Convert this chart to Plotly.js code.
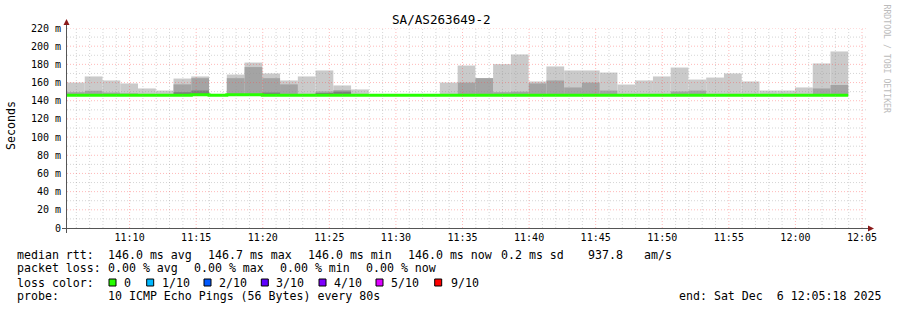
<!DOCTYPE html>
<html>
<head>
<meta charset="utf-8">
<script src="https://cdn.plot.ly/plotly-3.0.1.min.js"></script>
<style>html,body{margin:0;padding:0;background:#fff;}#chart{width:897px;height:310px;}</style>
</head>
<body>
<div id="chart"></div>
<script>
// ---- data ----
const stepStart = [
 '2025-12-06 11:05:18','2025-12-06 11:06:38','2025-12-06 11:07:58','2025-12-06 11:09:18',
 '2025-12-06 11:10:38','2025-12-06 11:11:58','2025-12-06 11:13:18','2025-12-06 11:14:38',
 '2025-12-06 11:15:58','2025-12-06 11:17:18','2025-12-06 11:18:38','2025-12-06 11:19:58',
 '2025-12-06 11:21:18','2025-12-06 11:22:38','2025-12-06 11:23:58','2025-12-06 11:25:18',
 '2025-12-06 11:26:38','2025-12-06 11:27:58','2025-12-06 11:29:18','2025-12-06 11:30:38',
 '2025-12-06 11:31:58','2025-12-06 11:33:18','2025-12-06 11:34:38','2025-12-06 11:35:58',
 '2025-12-06 11:37:18','2025-12-06 11:38:38','2025-12-06 11:39:58','2025-12-06 11:41:18',
 '2025-12-06 11:42:38','2025-12-06 11:43:58','2025-12-06 11:45:18','2025-12-06 11:46:38',
 '2025-12-06 11:47:58','2025-12-06 11:49:18','2025-12-06 11:50:38','2025-12-06 11:51:58',
 '2025-12-06 11:53:18','2025-12-06 11:54:38','2025-12-06 11:55:58','2025-12-06 11:57:18',
 '2025-12-06 11:58:38','2025-12-06 11:59:58','2025-12-06 12:01:18','2025-12-06 12:02:38'
];
const stepEnd = '2025-12-06 12:03:58';
const stepMs = 80000;

// smoke: outer pair (min..max), second pair, third pair (ms)
const smokeLow = [
 146,146,146,146,146,146,146,146,146,146,146,146,146,146,146,146,146,146,146,146,146,146,
 146,146,146,146,146,146,146,146,146,146,146,146,146,146,146,146,146,146,146,146,146,146
];
const smokeOuterTop = [
 160,166.7,162.3,159,153.5,151.2,164.4,166.7,147.5,168.8,182,170,162.3,166.7,173.3,156.8,152.4,146.5,146.5,146.5,146.5,160,
 178.7,165,180.2,190.9,161.2,177.7,173.3,173.3,171,157.8,162.3,166.7,176.5,163.3,165.5,170,161.2,151.2,151.2,154.6,181,194.2
];
const smokeMidTop = [
 149.4,151,149,148,147,146.5,158,164.8,146.5,164.8,177,164.8,158,147,150.2,151.6,146.5,146,146,146,146,146.5,
 160,164.8,149.4,150,159,162.3,154.6,160,151.2,147,147,147,150.2,151.2,147,147,147,146.5,146.5,147,153.5,157.3
];
const smokeInnerTop = [
 146,146,146,146,146,146,149.4,151.2,146,146,146,149,146,146,148.5,150,146,146,146,146,146,146,
 146,146,146,146,146,146,146,146,146,146,146,146,146,146,146,146,146,146,146,146,146,146
];
const medianRtt = [
 146,146,146,146,146,146,146,146.7,146,146.5,146.7,146,146,146,146,146,146,146,146,146,146,146,
 146,146,146,146,146,146,146,146,146,146,146,146,146,146,146,146,146,146,146,146,146,146
];

const yTickVals = [0,20,40,60,80,100,120,140,160,180,200,220];
const yTickText = ['0','20 m','40 m','60 m','80 m','100 m','120 m','140 m','160 m','180 m','200 m','220 m'];

const chartTitle = 'SA/AS263649-2';
const yTitle = 'Seconds';
const statsRtt = [['median rtt:',16],['146.0 ms avg',107.3],['146.7 ms max',207.3],['146.0 ms min',307.3],['146.0 ms now',407.3],['0.2 ms sd',500],['937.8',586.7],['am/s',642.7]];
const statsLoss = [['packet loss:',16],['0.00 % avg',107.3],['0.00 % max',193.3],['0.00 % min',279.3],['0.00 % now',365.3]];
const lossLabels = ['0','1/10','2/10','3/10','4/10','5/10','9/10'];
const lossColors = ['#26ff00','#00b8ff','#0059ff','#5e00ff','#7e00ff','#dd00ff','#ff0000'];
const probeText = '10 ICMP Echo Pings (56 Bytes) every 80s';
const endText = 'end: Sat Dec  6 12:05:18 2025';
const watermark = 'RRDTOOL / TOBI OETIKER';

// ---- layout geometry ----
const W = 897, H = 310, L = 67, R = 866, T = 28, B = 228;
const px = x => (x - L) / (R - L);
const py = y => (B - y) / (B - T);
const MONO = 'DejaVu Sans Mono, monospace';

function diff(a, b) { return a.map((v, i) => v - b[i]); }

const traces = [
  {type:'bar', x: stepStart, base: smokeLow, y: diff(smokeOuterTop, smokeLow), offset: 0, width: stepMs,
   marker:{color:'#cacaca', line:{width:0}}, hoverinfo:'skip'},
  {type:'bar', x: stepStart, base: smokeLow, y: diff(smokeMidTop, smokeLow), offset: 0, width: stepMs,
   marker:{color:'#a4a4a4', line:{width:0}}, hoverinfo:'skip'},
  {type:'bar', x: stepStart, base: smokeLow, y: diff(smokeInnerTop, smokeLow), offset: 0, width: stepMs,
   marker:{color:'#7e7e7e', line:{width:0}}, hoverinfo:'skip'},
  {type:'scatter', mode:'lines', x: stepStart.concat([stepEnd]), y: medianRtt.concat([medianRtt[medianRtt.length-1]]),
   line:{shape:'hv', color:'#26ff00', width:3}, hoverinfo:'skip'}
];

// grid shapes (drawn above the smoke, as rrdtool does)
const shapes = [];
const pad = n => String(n).padStart(2, '0');
const MAJ = 'rgba(255,70,70,0.38)', MIN = 'rgba(150,150,150,0.4)';
for (let m = 6; m <= 65; m++) {
  const hh = 11 + Math.floor(m / 60), mm = m % 60;
  const t = '2025-12-06 ' + pad(hh) + ':' + pad(mm) + ':00';
  const major = (mm % 5 === 0);
  shapes.push({type:'line', layer:'above', xref:'x', yref:'paper', x0:t, x1:t, y0:0, y1:1,
    line:{color: major ? MAJ : MIN, width:1, dash:'1px,2px'}});
}
for (let v = 10; v <= 220; v += 10) {
  const major = (v % 20 === 0);
  shapes.push({type:'line', layer:'above', xref:'paper', yref:'y', x0:0, x1:1, y0:v, y1:v,
    line:{color: major ? MAJ : MIN, width:1, dash:'1px,2px'}});
}
// axes + arrows
shapes.push({type:'line', layer:'above', xref:'paper', yref:'paper', x0:px(62), x1:px(869), y0:py(228.5), y1:py(228.5), line:{color:'#555', width:1}});
shapes.push({type:'line', layer:'above', xref:'paper', yref:'paper', x0:px(66.5), x1:px(66.5), y0:py(233), y1:py(23), line:{color:'#555', width:1}});
shapes.push({type:'path', layer:'above', xref:'paper', yref:'paper',
  path:'M '+px(868)+' '+py(225.5)+' L '+px(874)+' '+py(228.5)+' L '+px(868)+' '+py(231.5)+' Z', fillcolor:'#8b1a1a', line:{width:0}});
shapes.push({type:'path', layer:'above', xref:'paper', yref:'paper',
  path:'M '+px(63.5)+' '+py(25)+' L '+px(66.5)+' '+py(19)+' L '+px(69.5)+' '+py(25)+' Z', fillcolor:'#8b1a1a', line:{width:0}});

// legend boxes
const boxX = [109,146.7,204,261.3,319,376,434.7];
const labelX = [123.3,160.7,218,275.3,332.7,390,450];
lossColors.forEach((c, i) => {
  shapes.push({type:'rect', xref:'paper', yref:'paper', x0:px(boxX[i]), x1:px(boxX[i]+7), y0:py(279), y1:py(286),
    fillcolor:c, line:{color:'#000', width:1}});
});

const annotations = [];
function txt(text, x, y, opts) {
  annotations.push(Object.assign({text, x:px(x), y:py(y), xref:'paper', yref:'paper', showarrow:false,
    xanchor:'left', yanchor:'middle', borderpad:0, font:{family:MONO, size:11.6, color:'#000'}}, opts || {}));
}
statsRtt.forEach(([t, x]) => txt(t, x, 254.5));
statsLoss.forEach(([t, x]) => txt(t, x, 268.3));
txt('loss color:', 16, 282.6);
lossLabels.forEach((t, i) => txt(t, labelX[i], 282.6));
txt('probe:', 16, 296);
txt(probeText, 107.3, 296);
txt(endText, 678.3, 296);
txt(chartTitle, 441.3, 20, {xanchor:'center', font:{family:MONO, size:12.6, color:'#000'}});
txt(yTitle, 11, 126, {xanchor:'center', textangle:-90, font:{family:MONO, size:11.6, color:'#000'}});
txt(watermark, 886, 58.5, {xanchor:'center', textangle:90, font:{family:MONO, size:8.2, color:'#bbbbbb'}});

const layout = {
  width: W, height: H,
  margin: {l: L, r: W - R, t: T, b: H - B},
  paper_bgcolor:'#fff', plot_bgcolor:'#fff',
  showlegend:false, barmode:'overlay', hovermode:false,
  xaxis: {type:'date', range:['2025-12-06 11:05:18','2025-12-06 12:05:18'],
    tick0:'2025-12-06 11:00:00', dtick:300000, tickformat:'%H:%M',
    showgrid:false, zeroline:false, showline:false, ticks:'', ticklabelstandoff:2,
    tickfont:{family:MONO, size:10, color:'#000'}},
  yaxis: {range:[0,220], tickmode:'array', tickvals:yTickVals, ticktext:yTickText,
    showgrid:false, zeroline:false, showline:false, ticks:'', ticklabelstandoff:5,
    tickfont:{family:MONO, size:10, color:'#000'}},
  shapes, annotations
};

Plotly.newPlot('chart', traces, layout, {staticPlot:true, displayModeBar:false});
</script>
</body>
</html>
